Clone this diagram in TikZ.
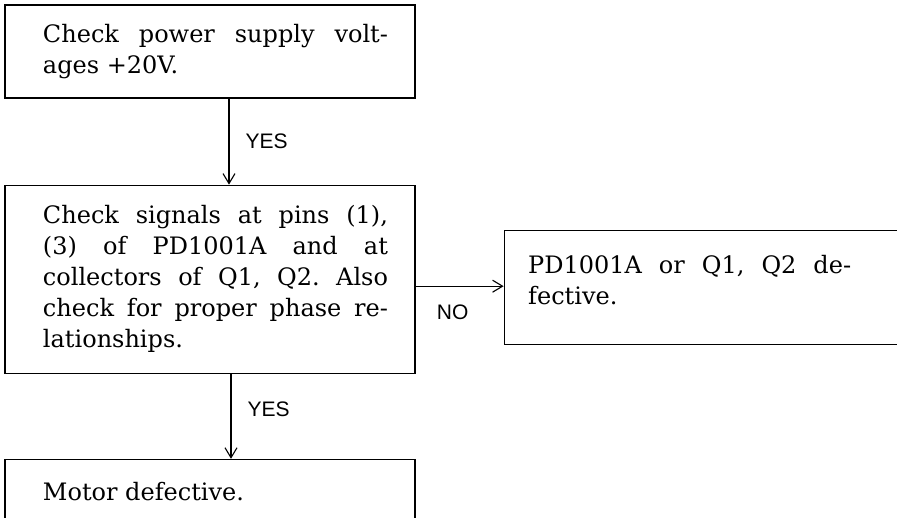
\documentclass[tikz,border=0pt]{standalone}
\usepackage{fontspec}
\setmainfont{DejaVu Serif}
\newfontfamily\labelfont{Liberation Sans}
\usepackage{tikz}
\usetikzlibrary{positioning,arrows.meta}

\begin{document}
\begin{tikzpicture}[
    x=1pt, y=1pt,
    box/.style={rectangle, draw, line width=1.2pt, minimum width=410pt,
        inner sep=0pt, text width=410pt, align=justify,
        font=\fontsize{24}{31}\selectfont\frenchspacing},
    arrow/.style={-{Straight Barb[length=10pt,width=12pt]}, line width=1.1pt},
    answer/.style={inner sep=0pt, font=\labelfont\fontsize{21}{25}\selectfont}
]
    \clip (0,0) rectangle (897,-517);
    \node[box, minimum height=93pt] (power) at (210,-51.5)
        {\hspace*{38pt}\parbox{345pt}{Check power supply volt-\linebreak ages +20V.}};
    \node[box, minimum height=188pt, below=86pt of power] (signals)
        {\hspace*{38pt}\parbox{345pt}{Check signals at pins (1),\linebreak
        (3) of PD1001A and at\linebreak collectors of Q1, Q2. Also\linebreak
        check for proper phase re-\linebreak lationships.}};
    \node[box, minimum height=114pt, right=88pt of signals, yshift=-8pt] (ics)
        {\hspace*{24pt}\parbox{323pt}{PD1001A or Q1, Q2 de-\linebreak fective.\par\vspace{14pt}}};
    \node[box, minimum height=64pt, below=85pt of signals] (motor)
        {\hspace*{38pt}\parbox{345pt}{Motor defective.}};

    \draw[arrow] ([xshift=19pt]power.south) -- node[answer, right=16pt] {YES} ([xshift=19pt]signals.north);
    \draw[arrow] ([yshift=-7pt]signals.east) -- node[answer, below=18pt, xshift=-7pt] {NO} ([yshift=-7pt]signals.east -| ics.west);
    \draw[arrow] ([xshift=21pt]signals.south) -- node[answer, right=16pt, pos=0.42] {YES} ([xshift=21pt]motor.north);
\end{tikzpicture}
\end{document}
